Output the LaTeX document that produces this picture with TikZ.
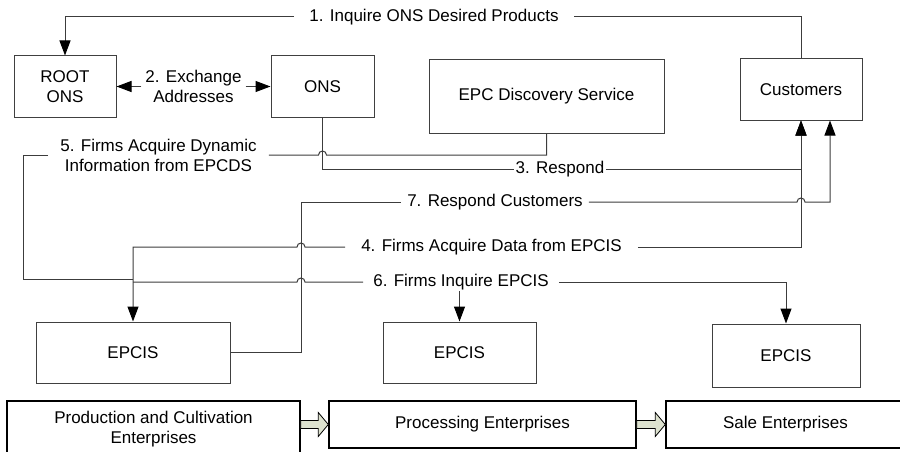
\documentclass[tikz,border=0pt]{standalone}
\usepackage{fontspec}
\setmainfont{Liberation Sans}
\usetikzlibrary{calc,arrows.meta}
\definecolor{edge}{HTML}{3C3C3C}
\definecolor{boxline}{HTML}{404040}
\definecolor{flowfill}{HTML}{DDE2CF}
\tikzset{
  unit/.style={draw=boxline, line width=1pt, inner sep=0pt, align=center, font=\fontsize{17}{20}\selectfont},
  chainbox/.style={unit, draw=black, line width=1.4pt},
  wire/.style={draw=edge, line width=1pt, line join=miter},
  arr/.style={wire, -{Triangle[length=15pt,width=11pt,black]}},
  tag/.style={inner ysep=1pt, align=center, font=\fontsize{17}{20}\selectfont},
  flow/.style={draw=black, fill=flowfill, line width=0.8pt, line join=miter},
}

\begin{document}
\begin{tikzpicture}[x=1pt,y=-1pt]
  \useasboundingbox (0,0) rectangle (900,452);

  % boxes
  \node[unit,minimum width=102pt,minimum height=61pt] (root) at (65,86.5) {ROOT\\ONS};
  \node[unit,minimum width=103pt,minimum height=61pt] (ons) at (322.5,86.5) {ONS};
  \node[unit,minimum width=235pt,minimum height=73pt] (epcds) at (546.5,96.5) {EPC Discovery Service};
  \node[unit,minimum width=122pt,minimum height=61pt] (cust) at (801,89.5) {Customers};
  \node[unit,minimum width=194pt,minimum height=61pt] (epcis1) at (133,352.5) {EPCIS};
  \node[unit,minimum width=153pt,minimum height=61pt] (epcis2) at (459.5,352.5) {EPCIS};
  \node[unit,minimum width=148pt,minimum height=63pt] (epcis3) at (786,355.5) {EPCIS};
  \node[chainbox,minimum width=293pt,minimum height=57pt] (prod) at (153.5,429.5) {Production and Cultivation\\Enterprises};
  \node[chainbox,minimum width=307pt,minimum height=47pt] (proc) at (482.5,424.5) {Processing Enterprises};
  \node[chainbox,minimum width=239pt,minimum height=47pt] (sale) at (785.5,424.5) {Sale Enterprises};

  % labels on the lines
  \node[tag,inner xsep=15pt] (l1) at (434,17) {1. Inquire ONS Desired Products};
  \node[tag,inner xsep=4pt] (l2) at (193.5,86.5) {2. Exchange\\Addresses};
  \node[tag,inner xsep=2pt] (l3) at (560,169) {3. Respond};
  \node[tag,inner xsep=16pt] (l4) at (491.5,247) {4. Firms Acquire Data from EPCIS};
  \node[tag,inner xsep=12pt] (l5) at (158.5,155) {5. Firms Acquire Dynamic\\Information from EPCDS};
  \node[tag,inner xsep=10pt] (l6) at (461,282) {6. Firms Inquire EPCIS};
  \node[tag,inner xsep=6pt] (l7) at (495,202) {7. Respond Customers};

  \coordinate (v7) at (301,202);
  \coordinate (w5) at (23,279);
  \coordinate (c7) at ([xshift=29pt]cust.south);
  \coordinate (h4) at (v7 |- l4.west);
  \coordinate (h5) at (ons.south |- l5.east);
  \coordinate (h6) at (v7 |- l6.west);
  \coordinate (h7) at (cust.south |- l7.east);

  % 1 and 2
  \draw[wire] (cust.north) |- (l1.east);
  \draw[arr] (l1.west) -| (root.north);
  \draw[arr] (l2.west) -- (root.east);
  \draw[arr] (l2.east) -- (ons.west);

  % 3 and 4
  \draw[wire] (ons.south) |- (l3.west);
  \draw[arr] (l3.east) -| (cust.south);
  \draw[arr] (l4.east) -| (cust.south);
  \draw[arr] (l4.west) -- ([xshift=4pt]h4) arc[start angle=0,end angle=180,radius=4pt]
    -- (epcis1.north |- l4.west) -- (epcis1.north);

  % 5
  \draw[wire] (epcds.south) |- ([xshift=4pt]h5) arc[start angle=0,end angle=180,radius=4pt] -- (l5.east);
  \draw[wire] (l5.west) -| (w5) -- (w5 -| epcis1.north);

  % 6
  \draw[wire] (l6.west) -- ([xshift=4pt]h6) arc[start angle=0,end angle=180,radius=4pt] -- (epcis1.north |- l6.west);
  \draw[arr] (l6.east) -| (epcis3.north);
  \draw[arr] (l6.south -| epcis2.north) -- (epcis2.north);

  % 7
  \draw[wire] (epcis1.east) -| (v7) -- (l7.west);
  \draw[arr] (l7.east) -- ([xshift=-4pt]h7) arc[start angle=180,end angle=0,radius=4pt]
    -- (l7.east -| c7) -- (c7);

  % chain arrows
  \foreach \a/\b in {prod/proc,proc/sale}{
    \coordinate (f) at (\a.east |- \b.west);
    \draw[flow] ($(f)+(0,-4)$) -- ($(\b.west)+(-10,-4)$) -- ($(\b.west)+(-10,-12)$) -- (\b.west)
      -- ($(\b.west)+(-10,12)$) -- ($(\b.west)+(-10,4)$) -- ($(f)+(0,4)$) -- cycle;
  }
\end{tikzpicture}
\end{document}
